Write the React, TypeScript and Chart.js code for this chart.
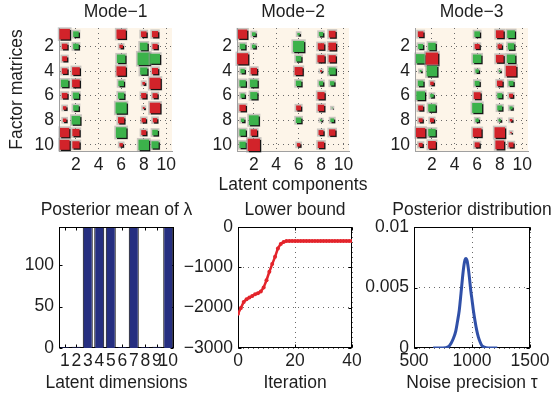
import { useEffect, useRef } from 'react';
import { Chart, registerables } from 'chart.js';

Chart.register(...registerables);

// ---------------- data ----------------
const HINTON_ROWS = [1, 2, 3, 4, 5, 6, 7, 8, 9, 10];
const ACTIVE_COMPONENTS = [1, 2, 6, 8, 9];
const HINTON_TICKS = [2, 4, 6, 8, 10];

// rows = factor-matrix rows 1..10, columns = ACTIVE_COMPONENTS (negative = red, positive = green)
const MODE1 = [
  [-0.85, 0.45, -0.75, -0.45, -0.5],
  [-0.45, 0.45, -0.28, 0.62, -0.42],
  [-0.4, 0.05, 0.68, 1.0, 0.8],
  [-0.45, -0.62, -0.75, 0.58, -0.5],
  [0.6, -0.62, 0.45, -0.22, -0.9],
  [-0.45, 0.5, 0.5, -0.42, -0.4],
  [-0.28, 0.45, 0.9, -0.15, -0.85],
  [-0.28, 0.7, -0.5, -0.35, -0.35],
  [-0.75, -0.58, 0.85, -0.4, 0.45],
  [-0.8, -0.58, -0.28, 0.85, 0.58],
];
const MODE2 = [
  [-0.75, 0.3, 0.2, 0.35, -0.55],
  [0.45, 0.3, 0.9, -0.52, -0.62],
  [-0.9, 0.05, 0.45, -0.58, -0.58],
  [0.35, -0.52, -0.65, -0.15, 0.58],
  [0.52, 0.62, 0.45, 0.35, 0.35],
  [0.35, 0.58, 0.05, -0.58, 0.05],
  [-0.52, 0.05, -0.4, -0.52, 0.08],
  [0.28, 0.8, 0.45, 0.15, 0.3],
  [0.52, -0.52, 0.03, -0.4, -0.52],
  [0.52, -1.0, -0.28, -0.52, 0.03],
];
const MODE3 = [
  [-0.45, 0.05, 0.45, -0.62, 0.62],
  [0.4, 0.6, -0.4, -0.35, 0.52],
  [0.75, -1.0, 0.68, -0.62, 0.68],
  [0.15, 0.85, 0.28, 0.15, -0.85],
  [0.45, -0.28, 0.4, -0.45, 0.4],
  [0.7, 0.28, -0.55, 0.4, -0.32],
  [-0.4, 0.6, 0.8, 0.4, 0.25],
  [-0.32, -0.32, 0.28, 0.2, -0.2],
  [-0.75, 0.6, -0.7, -0.85, -0.12],
  [-0.32, -0.62, -0.4, -0.7, -0.4],
];

const LAMBDA_DIMS = ['1', '2', '3', '4', '5', '6', '7', '8', '9', '10'];
const LAMBDA_MEAN = [1.2, 1.4, 146, 146, 146, 1.3, 146, 1.2, 1.5, 146];
const LAMBDA_TICKS = [0, 50, 100];

const ITERATIONS = [
  0, 1, 2, 3, 4, 5, 6, 7, 8, 9, 10, 11, 12, 13, 14, 15, 16, 17, 18, 19, 20,
  21, 22, 23, 24, 25, 26, 27, 28, 29, 30, 31, 32, 33, 34, 35, 36, 37, 38, 39, 40,
];
const LOWER_BOUND = [
  -2150, -2010, -1860, -1790, -1750, -1710, -1670, -1640, -1600, -1500, -1320,
  -1110, -920, -740, -530, -420, -370, -350, -346, -345, -345, -345, -345, -345,
  -345, -345, -345, -345, -345, -345, -345, -345, -345, -345, -345, -345, -345,
  -345, -345, -345, -345,
];
const LB_X_TICKS = [0, 20, 40];
const LB_Y_TICKS = [-3000, -2000, -1000, 0];

const TAU = [
  665, 700, 750, 795, 820, 840, 860, 875, 890, 905, 918, 930, 940, 948, 958, 968,
  978, 990, 1000, 1012, 1025, 1040, 1055, 1070, 1085, 1100, 1140, 1180, 1218,
];
const TAU_DENSITY = [
  0, 0, 0, 0.0001, 0.0004, 0.0008, 0.0014, 0.0022, 0.0031, 0.0045, 0.0058, 0.0068,
  0.0073, 0.0074, 0.0072, 0.0066, 0.0058, 0.0047, 0.004, 0.0031, 0.0023, 0.0015,
  0.0009, 0.0005, 0.0002, 0.0001, 0, 0, 0,
];
const TAU_X_TICKS = [500, 1000, 1500];
const TAU_Y_TICKS = [0, 0.005, 0.01];

// ---------------- styling ----------------
const W = 554;
const H = 399;
const FONT_FAMILY = "'Liberation Sans', Arial, Helvetica, sans-serif";
const FONT_SIZE = 17.5;
const FONT = { family: FONT_FAMILY, size: FONT_SIZE, weight: 'normal' as const };
const TEXT_COLOR = '#1e1e1e';
const HINTON_BG = '#fdf5e9';
const RED = '#d2232a';
const GREEN = '#3cb24b';
const HINTON_SCALE = 1.1;

type Area = { left: number; top: number; right: number; bottom: number };

const fmt = (v: number) => (v < 0 ? '\u2212' + Math.abs(v) : String(v));
const setTicks = (values: number[]) => (s: any) => {
  s.ticks = values.map((value) => ({ value }));
};

// titles / axis titles drawn as canvas text, centred on the plot area
const textPlugin = {
  id: 'texts',
  afterDraw(chart: any, _args: any, opts: any) {
    const { ctx, chartArea: a } = chart;
    ctx.save();
    ctx.fillStyle = TEXT_COLOR;
    ctx.font = `${FONT_SIZE}px ${FONT_FAMILY}`;
    ctx.textAlign = 'center';
    ctx.textBaseline = 'middle';
    const cx = (a.left + a.right) / 2;
    if (opts.title) ctx.fillText(opts.title, cx, opts.titleY);
    if (opts.xTitle) ctx.fillText(opts.xTitle, cx, opts.xTitleY);
    if (opts.yTitle) {
      ctx.translate(opts.yTitleX, (a.top + a.bottom) / 2);
      ctx.rotate(-Math.PI / 2);
      ctx.fillText(opts.yTitle, 0, 0);
    }
    ctx.restore();
  },
};

const hintonPlugin = {
  id: 'hinton',
  beforeDraw(chart: any) {
    const { ctx, chartArea: a } = chart;
    ctx.save();
    ctx.fillStyle = HINTON_BG;
    ctx.fillRect(a.left, a.top, a.right - a.left, a.bottom - a.top);
    ctx.restore();
  },
  afterDatasetsDraw(chart: any) {
    const { ctx } = chart;
    const xs = chart.scales.x;
    const unit = Math.abs(xs.getPixelForValue(1) - xs.getPixelForValue(0));
    const ds = chart.data.datasets[0];
    const meta = chart.getDatasetMeta(0);
    ctx.save();
    meta.data.forEach((el: any, i: number) => {
      const v = ds.data[i].v;
      const half = (Math.abs(v) * unit * HINTON_SCALE) / 2;
      if (half < 0.4) return;
      const x = el.x;
      const y = el.y;
      ctx.fillStyle = 'rgba(150,150,150,0.5)';
      ctx.fillRect(x - half - 1.6, y - half - 1.6, 2 * half + 3.2, 2 * half + 3.2);
      ctx.fillStyle = '#141414';
      ctx.fillRect(x - half + 1.2, y - half + 1.2, 2 * half, 2 * half);
      ctx.fillStyle = v < 0 ? RED : GREEN;
      ctx.fillRect(x - half, y - half, 2 * half, 2 * half);
    });
    ctx.restore();
  },
};

const boxPlugin = {
  id: 'box',
  beforeDatasetsDraw(chart: any) {
    const { ctx, chartArea: a, scales } = chart;
    const l = Math.round(a.left) + 0.5;
    const r = Math.round(a.right) - 0.5;
    const t = Math.round(a.top) + 0.5;
    const b = Math.round(a.bottom) - 0.5;
    ctx.save();
    ctx.strokeStyle = '#000';
    ctx.lineWidth = 1;
    ctx.strokeRect(l, t, r - l, b - t);
    ctx.beginPath();
    const tl = 3;
    scales.x.ticks.forEach((tk: any, i: number) => {
      const px = Math.round(scales.x.getPixelForValue(tk.value, i)) + 0.5;
      ctx.moveTo(px, b);
      ctx.lineTo(px, b - tl);
      ctx.moveTo(px, t);
      ctx.lineTo(px, t + tl);
    });
    scales.y.ticks.forEach((tk: any) => {
      const py = Math.round(scales.y.getPixelForValue(tk.value)) + 0.5;
      ctx.moveTo(l, py);
      ctx.lineTo(l + tl, py);
      ctx.moveTo(r, py);
      ctx.lineTo(r - tl, py);
    });
    ctx.stroke();
    ctx.restore();
  },
};

function baseOptions(area: Area, xH: number, texts: any) {
  return {
    responsive: false,
    animation: false as const,
    events: [] as any[],
    layout: {
      padding: { left: 0, top: area.top, right: W - area.right, bottom: H - area.bottom - xH },
    },
    plugins: {
      legend: { display: false },
      tooltip: { enabled: false },
      title: { display: false },
      texts,
    },
  };
}

function hintonConfig(title: string, matrix: number[][], area: Area, yTitle?: string, xTitle?: string): any {
  const points: { x: number; y: number; v: number }[] = [];
  HINTON_ROWS.forEach((row, r) =>
    ACTIVE_COMPONENTS.forEach((comp, c) => points.push({ x: comp, y: row, v: matrix[r][c] }))
  );
  const xH = 30;
  const gridStyle = { color: '#6a6a6a', lineWidth: 1, drawTicks: false };
  const borderStyle = { display: true, color: '#a0a0a0', width: 1, dash: [1, 4] };
  return {
    type: 'scatter',
    data: { datasets: [{ data: points, pointRadius: 0, pointHoverRadius: 0 }] },
    options: {
      ...baseOptions(area, xH, { title, titleY: 12, xTitle, xTitleY: 185, yTitle, yTitleX: 17 }),
      scales: {
        x: {
          type: 'linear',
          min: 0.5,
          max: 10.5,
          afterBuildTicks: setTicks(HINTON_TICKS),
          afterFit: (s: any) => {
            s.height = xH;
          },
          grid: gridStyle,
          border: borderStyle,
          ticks: { color: TEXT_COLOR, font: FONT, padding: 4, maxRotation: 0, callback: fmt },
        },
        y: {
          type: 'linear',
          reverse: true,
          min: 0.5,
          max: 10.5,
          afterBuildTicks: setTicks(HINTON_TICKS),
          afterFit: (s: any) => {
            s.width = area.left;
          },
          grid: gridStyle,
          border: borderStyle,
          ticks: { color: TEXT_COLOR, font: FONT, padding: 5, callback: fmt },
        },
      },
    },
    plugins: [hintonPlugin, textPlugin],
  };
}

const BOTTOM_XH = 30;
const dotted = { color: '#6a6a6a', lineWidth: 1, drawTicks: false };
const noBorder = { display: false, dash: [1, 4] };

function barConfig(area: Area): any {
  return {
    type: 'bar',
    data: {
      labels: LAMBDA_DIMS,
      datasets: [
        {
          data: LAMBDA_MEAN,
          backgroundColor: '#262f80',
          borderColor: '#000',
          borderWidth: 1,
          barPercentage: 0.87,
          categoryPercentage: 1,
        },
      ],
    },
    options: {
      ...baseOptions(area, BOTTOM_XH, {
        title: 'Posterior mean of \u03bb',
        titleY: 210,
        xTitle: 'Latent dimensions',
        xTitleY: 383,
      }),
      scales: {
        x: {
          afterFit: (s: any) => {
            s.height = BOTTOM_XH;
          },
          grid: { display: false, drawTicks: false },
          border: { display: false },
          ticks: { color: TEXT_COLOR, font: FONT, padding: 3, autoSkip: false, maxRotation: 0, minRotation: 0 },
        },
        y: {
          min: 0,
          max: 146,
          afterBuildTicks: setTicks(LAMBDA_TICKS),
          afterFit: (s: any) => {
            s.width = area.left;
          },
          grid: { display: false, drawTicks: false },
          border: { display: false },
          ticks: { color: TEXT_COLOR, font: FONT, padding: 5, callback: fmt },
        },
      },
    },
    plugins: [boxPlugin, textPlugin],
  };
}

function lineConfig(
  area: Area,
  title: string,
  xTitle: string,
  xs: number[],
  ys: number[],
  xRange: [number, number],
  yRange: [number, number],
  xTicks: number[],
  yTicks: number[],
  color: string,
  width: number,
  pointRadius: number,
  monotone: boolean
): any {
  return {
    type: 'line',
    data: {
      datasets: [
        {
          data: xs.map((x, i) => ({ x, y: ys[i] })),
          borderColor: color,
          backgroundColor: color,
          borderWidth: width,
          pointRadius,
          pointBorderWidth: 0,
          pointBackgroundColor: color,
          fill: false,
          cubicInterpolationMode: monotone ? 'monotone' : 'default',
        },
      ],
    },
    options: {
      ...baseOptions(area, BOTTOM_XH, { title, titleY: 210, xTitle, xTitleY: 383 }),
      scales: {
        x: {
          type: 'linear',
          min: xRange[0],
          max: xRange[1],
          afterBuildTicks: setTicks(xTicks),
          afterFit: (s: any) => {
            s.height = BOTTOM_XH;
          },
          grid: dotted,
          border: noBorder,
          ticks: { color: TEXT_COLOR, font: FONT, padding: 3, maxRotation: 0, callback: fmt },
        },
        y: {
          type: 'linear',
          min: yRange[0],
          max: yRange[1],
          afterBuildTicks: setTicks(yTicks),
          afterFit: (s: any) => {
            s.width = area.left;
          },
          grid: dotted,
          border: noBorder,
          ticks: { color: TEXT_COLOR, font: FONT, padding: 5, callback: fmt },
        },
      },
    },
    plugins: [boxPlugin, textPlugin],
  };
}

const AREAS: Record<string, Area> = {
  mode1: { left: 59, top: 28, right: 172, bottom: 151 },
  mode2: { left: 237, top: 28, right: 349, bottom: 151 },
  mode3: { left: 415, top: 28, right: 528, bottom: 151 },
  lambda: { left: 59, top: 227, right: 174, bottom: 348 },
  bound: { left: 238, top: 227, right: 352, bottom: 348 },
  tau: { left: 414, top: 227, right: 530, bottom: 348 },
};

export default function App() {
  const refs = [
    useRef<HTMLCanvasElement>(null),
    useRef<HTMLCanvasElement>(null),
    useRef<HTMLCanvasElement>(null),
    useRef<HTMLCanvasElement>(null),
    useRef<HTMLCanvasElement>(null),
    useRef<HTMLCanvasElement>(null),
  ];

  useEffect(() => {
    const configs = [
      hintonConfig('Mode\u22121', MODE1, AREAS.mode1, 'Factor matrices'),
      hintonConfig('Mode\u22122', MODE2, AREAS.mode2, undefined, 'Latent components'),
      hintonConfig('Mode\u22123', MODE3, AREAS.mode3),
      barConfig(AREAS.lambda),
      lineConfig(
        AREAS.bound,
        'Lower bound',
        'Iteration',
        ITERATIONS,
        LOWER_BOUND,
        [0, 40],
        [-3000, 0],
        LB_X_TICKS,
        LB_Y_TICKS,
        '#e3242b',
        2.5,
        2,
        false
      ),
      lineConfig(
        AREAS.tau,
        'Posterior distribution',
        'Noise precision \u03c4',
        TAU,
        TAU_DENSITY,
        [500, 1500],
        [0, 0.01],
        TAU_X_TICKS,
        TAU_Y_TICKS,
        '#3050a8',
        3,
        0,
        true
      ),
    ];
    const charts = configs.map((cfg, i) => new Chart(refs[i].current as HTMLCanvasElement, cfg));
    return () => charts.forEach((c) => c.destroy());
  }, []);

  return (
    <div style={{ position: 'absolute', left: 0, top: 0, width: W, height: H, background: '#fff' }}>
      {refs.map((r, i) => (
        <canvas
          key={i}
          ref={r}
          width={W}
          height={H}
          style={{ position: 'absolute', left: 0, top: 0, width: W, height: H }}
        />
      ))}
    </div>
  );
}
